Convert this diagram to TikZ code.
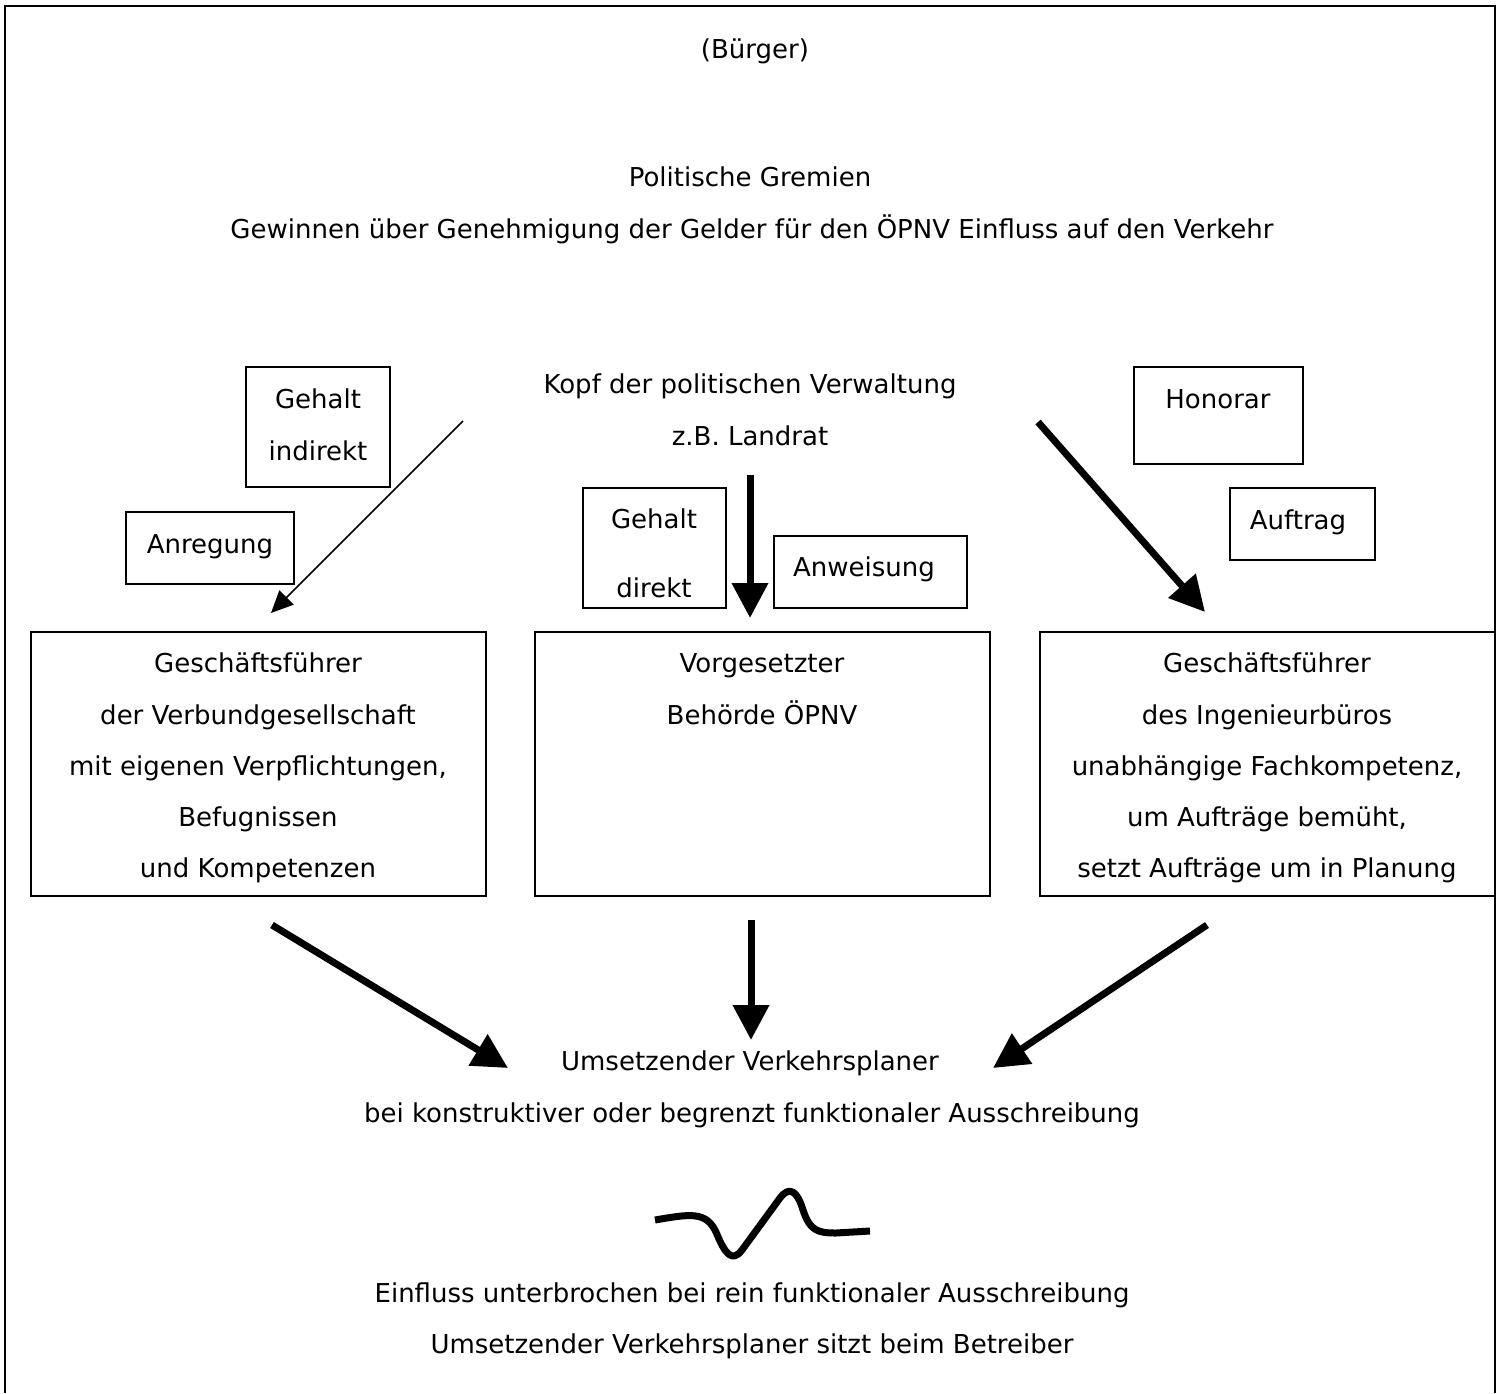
\documentclass[tikz,border=0pt]{standalone}
\usepackage{fontspec}
\setmainfont{DejaVu Sans}
\usetikzlibrary{arrows.meta,fit}
\begin{document}
\begin{tikzpicture}[x=0.5pt,y=-0.5pt,
  txt/.style={font=\fontsize{13}{25.75}\selectfont, inner sep=0pt, align=center, anchor=base},
  box/.style={draw, line width=0.9pt, inner sep=0pt},
  bigarrow/.style={line width=3.5pt, -{Triangle[length=17.5pt,width=17.5pt]}},
  thinarrow/.style={line width=0.75pt, -{Triangle[length=11pt,width=10pt]}}]
\useasboundingbox (0,0) rectangle (1500,1393);
\draw[line width=0.9pt] (5,1393) -- (5,6) -- (1495,6) -- (1495,1393);

% top texts
\node[txt] (buerger) at (755,58) {(Bürger)};
\node[txt] (gremien) at (750,186) {Politische Gremien};
\node[txt] (gewinnen) at (752,238) {Gewinnen über Genehmigung der Gelder für den ÖPNV Einfluss auf den Verkehr};
\node[txt] (kopf) at (750,393) {Kopf der politischen Verwaltung};
\node[txt] (landrat) at (750,445) {z.B. Landrat};

% small boxes
\node[box, fit={(246,367) (390,487)}] (gind) {};
\node[txt] (gind1) at (318,408) {Gehalt};
\node[txt] (gind2) at (318,460) {indirekt};
\node[box, fit={(126,512) (294,584)}] (anr) {};
\node[txt] (anrt) at (210,553) {Anregung};
\node[box, fit={(583,488) (726,608)}] (gdir) {};
\node[txt] (gdir1) at (654,528) {Gehalt};
\node[txt] (gdir2) at (654,597) {direkt};
\node[box, fit={(774,536) (967,608)}] (anw) {};
\node[txt] (anwt) at (864,576) {Anweisung};
\node[box, fit={(1134,367) (1303,464)}] (hon) {};
\node[txt] (hont) at (1218,408) {Honorar};
\node[box, fit={(1230,488) (1375,560)}] (auf) {};
\node[txt] (auft) at (1298,529) {Auftrag};

% big boxes
\node[box, fit={(31,632) (486,896)}] (gfv) {};
\node[box, fit={(535,632) (990,896)}] (vorg) {};
\node[box, fit={(1040,632) (1495,896)}] (gfi) {};
\node[txt] (gfv1) at (258,672) {Geschäftsführer};
\node[txt] (gfv2) at (258,724) {der Verbundgesellschaft};
\node[txt] (gfv3) at (258,775) {mit eigenen Verpflichtungen,};
\node[txt] (gfv4) at (258,826) {Befugnissen};
\node[txt] (gfv5) at (258,877) {und Kompetenzen};
\node[txt] (vorg1) at (762,672) {Vorgesetzter};
\node[txt] (vorg2) at (762,724) {Behörde ÖPNV};
\node[txt] (gfi1) at (1267,672) {Geschäftsführer};
\node[txt] (gfi2) at (1267,724) {des Ingenieurbüros};
\node[txt] (gfi3) at (1267,775) {unabhängige Fachkompetenz,};
\node[txt] (gfi4) at (1267,826) {um Aufträge bemüht,};
\node[txt] (gfi5) at (1267,877) {setzt Aufträge um in Planung};

% bottom texts
\node[txt] (ums) at (750,1070) {Umsetzender Verkehrsplaner};
\node[txt] (bei) at (752,1122) {bei konstruktiver oder begrenzt funktionaler Ausschreibung};
\node[txt] (einf) at (752,1302) {Einfluss unterbrochen bei rein funktionaler Ausschreibung};
\node[txt] (sitzt) at (752,1353) {Umsetzender Verkehrsplaner sitzt beim Betreiber};

% arrow end points
\coordinate (a1s) at (463,421);  \coordinate (a1e) at (271,613);
\coordinate (a2s) at (750,475);  \coordinate (a2e) at (750,618);
\coordinate (a3s) at (1038,422); \coordinate (a3e) at (1205,612);
\coordinate (b1s) at (272,925);  \coordinate (b1e) at (508,1068);
\coordinate (b2s) at (751,920);  \coordinate (b2e) at (751,1040);
\coordinate (b3s) at (1207,925); \coordinate (b3e) at (993,1068);

\draw[thinarrow] (a1s) -- (a1e);
\draw[bigarrow] (a2s) -- (a2e);
\draw[bigarrow] (a3s) -- (a3e);
\draw[bigarrow] (b1s) -- (b1e);
\draw[bigarrow] (b2s) -- (b2e);
\draw[bigarrow] (b3s) -- (b3e);

% wave
\draw[line width=3.5pt, line join=round]
  (655,1220) .. controls (690,1214) and (706,1211) .. (716,1232)
  .. controls (725,1254) and (732,1263) .. (742,1250)
  -- (780,1198)
  .. controls (789,1186) and (797,1190) .. (803,1210)
  .. controls (810,1231) and (818,1233) .. (836,1233)
  -- (870,1231);
\end{tikzpicture}
\end{document}
